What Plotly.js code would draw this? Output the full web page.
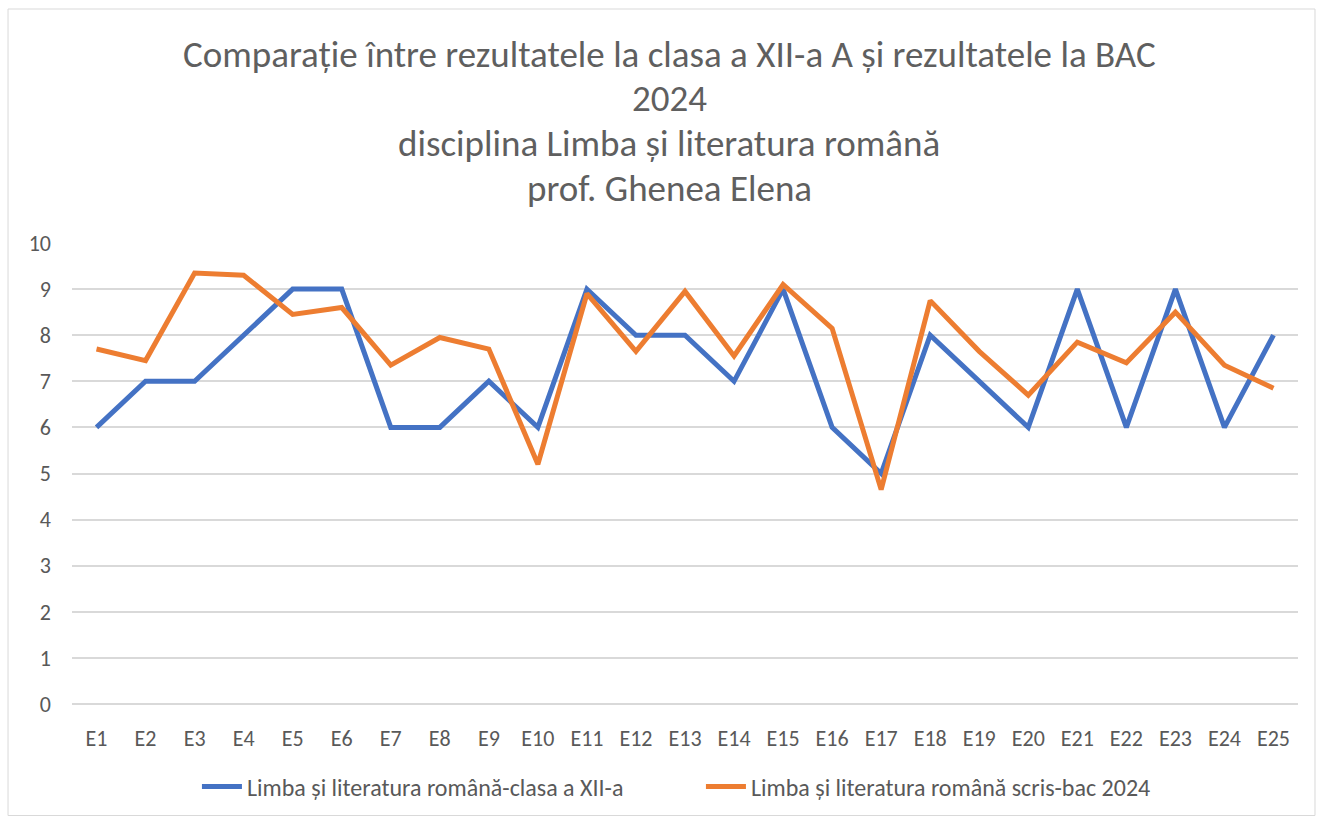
<!DOCTYPE html>
<html><head><meta charset="utf-8">
<script src="https://cdn.plot.ly/plotly-3.0.1.min.js"></script>
<style>html,body{margin:0;padding:0;background:#fff;}#chart{width:1317px;height:822px;}</style>
</head><body><div id="chart"></div>
<script>
const categories = ["E1","E2","E3","E4","E5","E6","E7","E8","E9","E10","E11","E12","E13","E14","E15","E16","E17","E18","E19","E20","E21","E22","E23","E24","E25"];
const clasaValues = [6,7,7,8,9,9,6,6,7,6,9,8,8,7,9,6,5,8,7,6,9,6,9,6,8];
const bacValues = [7.7,7.45,9.35,9.3,8.45,8.6,7.35,7.95,7.7,5.2,8.9,7.65,8.95,7.55,9.1,8.15,4.65,8.75,7.65,6.7,7.85,7.4,8.5,7.35,6.85];
const seriesNames = ["Limba și literatura română-clasa a XII-a","Limba și literatura română scris-bac 2024"];
const titleLines = ["Comparație între rezultatele la clasa a XII-a A și rezultatele la BAC","2024","disciplina Limba și literatura română","prof. Ghenea Elena"];

const FONT = "Carlito, Calibri, 'Liberation Sans Narrow', 'Open Sans', sans-serif";
const traces = [
  {x: categories, y: clasaValues, type: 'scatter', mode: 'lines', name: seriesNames[0], line: {color: '#4472C4', width: 5}},
  {x: categories, y: bacValues, type: 'scatter', mode: 'lines', name: seriesNames[1], line: {color: '#ED7D31', width: 5}}
];
const titleY = [54, 98, 143, 188];
const annotations = titleLines.map((t, i) => ({
  text: t, xref: 'paper', yref: 'paper', x: 0.487, xanchor: 'center',
  y: 1 + (243 - titleY[i]) / 463, yanchor: 'middle', showarrow: false,
  font: {family: FONT, size: 37, color: '#5f5f5f'}
}));
const layout = {
  width: 1317, height: 822,
  margin: {l: 72, r: 18.5, t: 243, b: 116},
  paper_bgcolor: '#fff', plot_bgcolor: '#fff',
  font: {family: FONT, color: '#595959'},
  showlegend: true,
  legend: {orientation: 'h', x: 0.513, xanchor: 'center', y: -0.18, yanchor: 'middle', font: {size: 24, color: '#595959'}, itemwidth: 40, entrywidth: 449},
  xaxis: {type: 'category', range: [-0.5, 24.5], showgrid: false, showline: false, ticks: '', tickfont: {size: 22, color: '#595959'}, zeroline: false, ticklabelstandoff: 19},
  yaxis: {range: [0, 10], dtick: 1, showgrid: true, gridcolor: '#D9D9D9', gridwidth: 1.5, zeroline: true, zerolinecolor: '#D9D9D9', zerolinewidth: 1.5, ticks: '', ticklen: 0, tickfont: {size: 22, color: '#595959'}, showline: false, ticklabelstandoff: 20},
  annotations: annotations,
  shapes: [{type: 'rect', xref: 'paper', yref: 'paper', x0: -72/1226.5 + 8/1226.5, x1: 1 + 17/1226.5, y0: -116/463 + 4/463, y1: 1 + 235/463, line: {color: '#D9D9D9', width: 1}}]
};
Plotly.newPlot('chart', traces, layout, {displayModeBar: false});
</script></body></html>
